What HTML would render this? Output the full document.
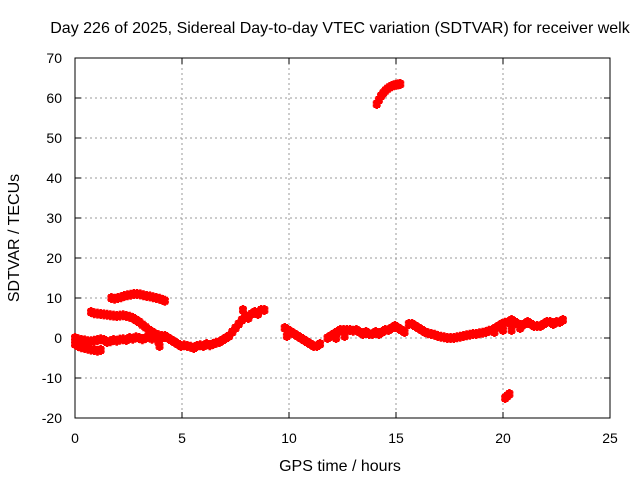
<!DOCTYPE html>
<html><head><meta charset="utf-8"><style>
body{margin:0;background:#fff}
svg text{font-family:"Liberation Sans",sans-serif;font-size:14px;fill:#000}
svg text.big{font-size:16px}
</style></head><body>
<svg id="c" width="640" height="480">
<rect width="640" height="480" fill="#fff"/>
<g id="grid"></g>
<g id="ticks"></g>
<rect x="75" y="58" width="535" height="360" fill="none" stroke="#000" stroke-width="1"/>
<g id="pts"></g>
<text class="big" x="340" y="33" text-anchor="middle">Day 226 of 2025, Sidereal Day-to-day VTEC variation (SDTVAR) for receiver welk</text>
<text class="big" x="340" y="471" text-anchor="middle">GPS time / hours</text>
<text class="big" transform="translate(19,238) rotate(-90)" text-anchor="middle">SDTVAR / TECUs</text>
</svg>
<script>
const xTicks=[0,5,10,15,20,25];
const yTicks=[-20,-10,0,10,20,30,40,50,60,70];
const trackA=[[0,-1.5],[.15,-2],[.3,-2.3],[.45,-2.5],[.6,-2.7],[.75,-2.9],[.9,-3],[1.05,-3.2],[1.2,-3]];
const trackB=[[0,0],[.15,-.3],[.3,-.5],[.45,-.6],[.6,-.8],[.75,-.8],[.9,-.7],[1.05,-.5],[1.2,-.3],[1.35,-.5],[1.5,-1],[1.65,-.8],[1.8,-.5],[1.95,-.7],[2.1,-.4],[2.25,-.3],[2.4,-.5],[2.55,0],[2.7,-.2],[2.85,.2],[3,0],[3.15,-.3],[3.3,0],[3.45,.5],[3.6,-.2],[3.75,.3],[3.9,-1],[3.95,-2],[4.05,0],[4.2,.5],[4.35,0],[4.5,-.5],[4.65,-1],[4.8,-1.5],[4.95,-2]];
const trackC=[[.75,6.5],[.9,6.2],[1.05,6.1],[1.2,6],[1.35,5.9],[1.5,5.8],[1.65,5.7],[1.8,5.6],[1.95,5.5],[2.1,5.6],[2.25,5.7],[2.4,5.5],[2.55,5.3],[2.7,5],[2.85,4.5],[3,4],[3.15,3.3],[3.3,2.7],[3.45,2],[3.6,1.5],[3.75,1],[3.9,.7],[4.05,.5],[4.2,.3]];
const trackD=[[1.7,10],[1.85,9.8],[2,10],[2.15,10.2],[2.3,10.5],[2.45,10.7],[2.6,10.8],[2.75,11],[2.9,11],[3.05,10.9],[3.2,10.7],[3.35,10.5],[3.5,10.4],[3.65,10.2],[3.8,10],[3.95,9.8],[4.1,9.5],[4.2,9.3]];
const trackE=[[5.1,-1.8],[5.25,-2],[5.4,-2.2],[5.55,-2.5],[5.7,-2],[5.85,-1.8],[6,-2],[6.15,-1.5],[6.3,-1.8],[6.45,-1.5],[6.6,-1.2],[6.75,-1],[6.9,-.5],[7.05,0],[7.2,.5],[7.35,1.5],[7.5,2.5],[7.65,3.5],[7.8,4.5],[7.85,7],[7.95,5.5],[8.1,5],[8.25,6],[8.4,6.5],[8.55,6],[8.7,7],[8.85,7]];
const trackF=[[9.8,2.5],[9.9,.5],[9.95,2],[10.1,1.5],[10.25,1],[10.4,.5],[10.55,0],[10.7,-.5],[10.85,-1],[11,-1.5],[11.15,-2],[11.3,-2],[11.45,-1.5]];
const trackG=[[11.8,0],[11.95,.5],[12.1,1],[12.25,1.5],[12.4,2],[12.55,2],[12.7,2],[12.85,2],[13,1.8],[13.15,2],[13.3,1.5],[13.45,1],[13.6,1.5],[13.75,1],[13.9,1],[14.05,1.5],[14.2,1],[14.35,1.5],[14.5,2],[14.65,2],[14.8,2.5],[14.95,3],[15.1,2.5],[15.25,2],[15.4,1.5],[12.2,0],[12.6,.5]];
const trackH=[[15.6,3.5],[15.75,3.5],[15.9,3],[16.05,2.5],[16.2,2],[16.35,1.5],[16.5,1.2],[16.65,1],[16.8,.8],[16.95,.5],[17.1,.3],[17.25,.2],[17.4,0],[17.55,0],[17.7,0],[17.85,.2],[18,.3]];
const trackI=[[18.15,.5],[18.3,.7],[18.45,.8],[18.6,1],[18.75,1],[18.9,1.2],[19.05,1.3],[19.2,1.5],[19.35,1.8],[19.5,2],[19.65,2.5],[19.8,3],[19.95,3.5],[20.1,3.8],[20.25,4],[20.4,4.5],[20.55,4],[20.7,3.5],[20.85,3],[21,3.5],[21.15,4],[21.3,3.5],[21.45,3],[21.6,3],[21.75,3],[21.9,3.5],[22.05,4],[22.2,4],[22.35,3.5],[22.5,4],[22.65,4],[22.8,4.5],[19.6,1.5],[20,2],[20.4,2],[20.8,2.5]];
const trackJ=[[14.1,58.5],[14.2,59.5],[14.3,60.5],[14.4,61.2],[14.5,61.8],[14.6,62.3],[14.7,62.7],[14.8,63],[14.9,63.2],[15,63.3],[15.1,63.4],[15.2,63.5]];
const trackK=[[20.1,-15],[20.2,-14.5],[20.3,-14]];
const tracks=[trackA,trackB,trackC,trackD,trackE,trackF,trackG,trackH,trackI,trackJ,trackK];
const NS="http://www.w3.org/2000/svg";
const X=v=>75+v/25*535, Y=v=>418-(v+20)/90*360;
const grid=document.getElementById('grid'),ticks=document.getElementById('ticks'),pts=document.getElementById('pts');
function el(t,a,p){const e=document.createElementNS(NS,t);for(const k in a)e.setAttribute(k,a[k]);p.appendChild(e);return e;}
xTicks.forEach(v=>{const x=X(v);
 if(v>0&&v<25){const g=el('line',{x1:x,x2:x,y1:58,y2:418,stroke:'#999','stroke-dasharray':'2,3'},grid);}
 el('line',{x1:x,x2:x,y1:418,y2:412,stroke:'#000'},ticks);el('line',{x1:x,x2:x,y1:58,y2:64,stroke:'#000'},ticks);
 const t=el('text',{x:x,y:443,'text-anchor':'middle'},ticks);t.textContent=v;
 });
yTicks.forEach(v=>{const y=Y(v);
 if(v>-20&&v<70){const g=el('line',{x1:75,x2:610,y1:y,y2:y,stroke:'#999','stroke-dasharray':'2,3'},grid);}
 el('line',{x1:75,x2:81,y1:y,y2:y,stroke:'#000'},ticks);el('line',{x1:604,x2:610,y1:y,y2:y,stroke:'#000'},ticks);
 const t=el('text',{x:62,y:y+5,'text-anchor':'end'},ticks);t.textContent=v;
 });
tracks.forEach(tr=>tr.forEach(([a,b])=>{const x=X(a),y=Y(b);
 const p=el('path',{d:`M${x-4},${y-1.5}H${x+4}M${x-4},${y+1.5}H${x+4}M${x},${y-5}V${y+5}M${x-2},${y-4}V${y+4}M${x+2},${y-4}V${y+4}`,stroke:'#f00','stroke-width':2.5,fill:'none'},pts);
 }));
</script>
</body></html>
